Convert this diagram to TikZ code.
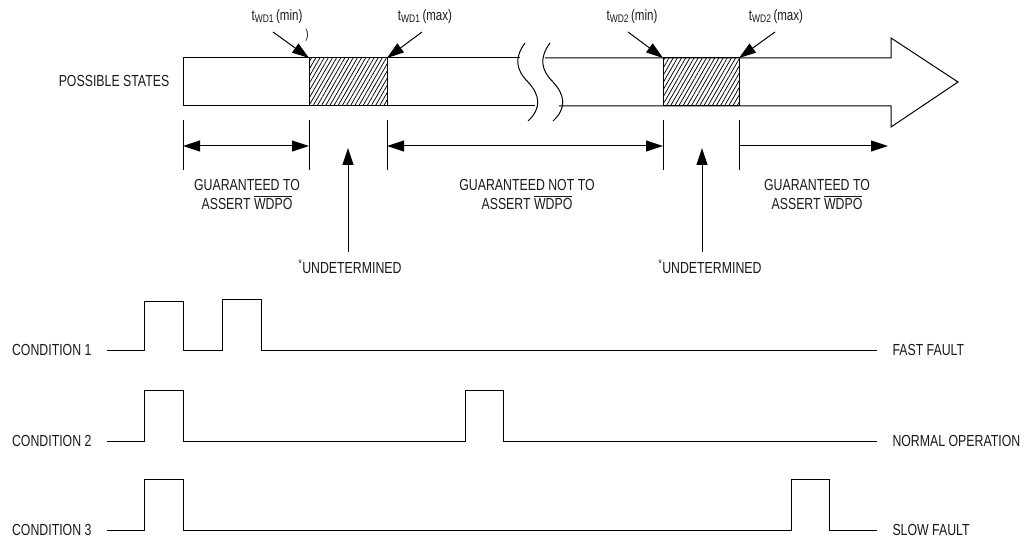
\documentclass[tikz,border=0pt]{standalone}
\usepackage{fontspec}
\setmainfont{Liberation Sans}[FakeStretch=0.77]
\usetikzlibrary{arrows.meta,patterns.meta}
\newcommand{\ovl}[1]{\ensuremath{\overline{\mbox{#1}}}}
\newcommand{\tsub}[2]{t\raisebox{-2pt}{\fontsize{11}{11}\selectfont #1}\,(#2)}
\begin{document}
\begin{tikzpicture}[x=1pt,y=-1pt,line width=1pt,
  lbl/.style={font=\fontsize{16}{19}\selectfont,inner sep=0pt,text=black!90,align=center},
  tlbl/.style={font=\fontsize{15}{16}\selectfont,inner sep=0pt,text=black!90},
  tipend/.style={-{Triangle[length=17pt,width=11pt]}},
  tipboth/.style={{Triangle[length=17pt,width=11pt]}-{Triangle[length=17pt,width=11pt]}},
  hatch/.style={pattern={Lines[angle=60,distance=3.6pt,line width=0.75pt]}},
  wave/.style={line width=1pt}]
\useasboundingbox (0,0) rectangle (1033,540);

% hatched regions
\fill[hatch] (309,58) rectangle (387,106);
\fill[hatch] (663,58) rectangle (739,106);
\draw (309,58) rectangle (387,106);
\draw (663,58) rectangle (739,106);

% bar with break and arrow head
\draw (520,58) -- (183,58) -- (183,106) -- (535,106);
\draw (545,58) -- (891,58) -- (891,38) -- (958,82) -- (891,127) -- (891,106) -- (559,106);
\draw (525,43) .. controls (514,58) and (516,70) .. (528,82) .. controls (540,95) and (542,108) .. (528,121);
\draw (550,43) .. controls (539,58) and (541,70) .. (553,82) .. controls (565,95) and (567,108) .. (553,121);

\node[lbl] (ps) at (114,81) {POSSIBLE STATES};

% t labels
\coordinate (c1) at (309,58);
\coordinate (c2) at (387,58);
\coordinate (c3) at (663,58);
\coordinate (c4) at (739,58);
\node[tlbl] (t1min) at (277,17) {\tsub{WD1}{min}};
\node[tlbl] (t1max) at (425,17) {\tsub{WD1}{max}};
\node[tlbl] (t2min) at (632,17) {\tsub{WD2}{min}};
\node[tlbl] (t2max) at (776,17) {\tsub{WD2}{max}};
\node[tlbl,font=\fontsize{13}{13}\selectfont] (stray) at (307,35) {)};
\draw[tipend] (273,32) -- (c1);
\draw[tipend] (422,32) -- (c2);
\draw[tipend] (628,32) -- (c3);
\draw[tipend] (775,32) -- (c4);

% dimension ticks
\foreach \x/\n in {183/a,309/b,387/c,663/d,739/e}{
  \draw (\x,120) -- (\x,170);
  \coordinate (d\n) at (\x,146);
}
\coordinate (df) at (888,146);
\draw[tipboth] (da) -- (db);
\draw[tipboth] (dc) -- (dd);
\draw[tipend] (de) -- (df);

% labels below
\node[lbl] (g1) at (247,194) {GUARANTEED TO\\ASSERT \ovl{WDPO}};
\node[lbl] (g2) at (527,194) {GUARANTEED NOT TO\\ASSERT \ovl{WDPO}};
\node[lbl] (g3) at (817,194) {GUARANTEED TO\\ASSERT \ovl{WDPO}};

\node[lbl] (u1) at (350,267) {\textsuperscript{*}UNDETERMINED};
\node[lbl] (u2) at (710,267) {\textsuperscript{*}UNDETERMINED};
\draw[tipend] (348,252) -- (348,148);
\draw[tipend] (702,252) -- (702,148);

% timing diagrams
\node[lbl,anchor=east] (cn1) at (92,350) {CONDITION 1};
\node[lbl,anchor=east] (cn2) at (92,441) {CONDITION 2};
\node[lbl,anchor=east] (cn3) at (92,530) {CONDITION 3};
\node[lbl,anchor=west] (r1) at (892,350) {FAST FAULT};
\node[lbl,anchor=west] (r2) at (892,441) {NORMAL OPERATION};
\node[lbl,anchor=west] (r3) at (892,530) {SLOW FAULT};

\draw[wave] (107,350) -- (144,350) -- (144,301) -- (183,301) -- (183,350) -- (222,350) -- (222,299) -- (261,299) -- (261,350) -- (877,350);
\draw[wave] (107,441) -- (144,441) -- (144,390) -- (183,390) -- (183,441) -- (465,441) -- (465,390) -- (503,390) -- (503,441) -- (877,441);
\draw[wave] (107,530) -- (144,530) -- (144,479) -- (183,479) -- (183,530) -- (791,530) -- (791,479) -- (829,479) -- (829,530) -- (877,530);
\end{tikzpicture}
\end{document}
